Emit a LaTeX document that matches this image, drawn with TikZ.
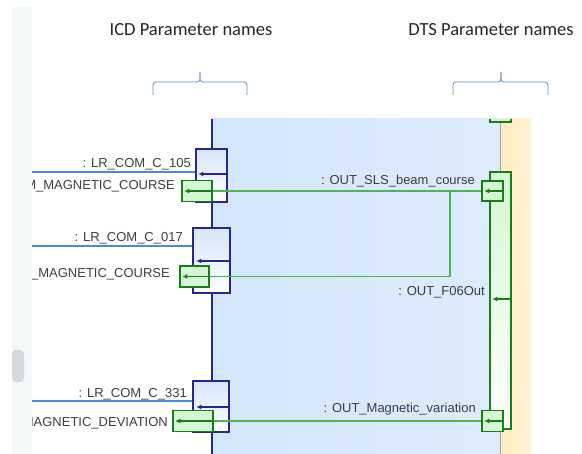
\documentclass[tikz,border=0pt]{standalone}
\usepackage{fontspec}
\setmainfont{Liberation Sans}
\newfontfamily\titlefont{Carlito}
\definecolor{seq_navy}{RGB}{40, 40, 140}
\definecolor{seq_blue}{RGB}{70, 140, 220}
\definecolor{seq_green}{RGB}{25, 125, 25}
\definecolor{seq_msg}{RGB}{80, 180, 80}
\definecolor{seq_bg}{RGB}{212, 230, 251}
\definecolor{seq_bglight}{RGB}{222, 236, 252}
\definecolor{seq_orange}{RGB}{253, 236, 192}
\definecolor{seq_orangelight}{RGB}{255, 243, 214}
\definecolor{seq_panel}{RGB}{244, 248, 248}
\definecolor{seq_thumb}{RGB}{214, 217, 219}
\definecolor{seq_brace}{RGB}{95, 140, 190}
\definecolor{seq_text}{RGB}{60, 60, 70}
\definecolor{seq_boxfill}{RGB}{214, 230, 251}
\definecolor{seq_greenfill}{RGB}{212, 246, 212}
\usetikzlibrary{arrows.meta}

\begin{document}
\begin{tikzpicture}[x=1pt, y=1pt,
    navybox/.style={draw=seq_navy, line width=1.4pt, top color=seq_boxfill,
                    bottom color=white, inner sep=0pt},
    greenbox/.style={draw=seq_green, line width=1.5pt, fill=seq_greenfill,
                     inner sep=0pt},
    bluemsg/.style={seq_blue, line width=1.2pt},
    greenmsg/.style={seq_msg, line width=1.2pt},
    navytip/.style={-{Latex[length=5pt, width=5pt]}, seq_navy, line width=1.2pt},
    greentip/.style={-{Latex[length=5pt, width=5pt]}, seq_green, line width=1.2pt},
    lbl/.style={font=\fontsize{13}{15}\selectfont, text=seq_text,
                inner sep=0pt, anchor=base east},
    ttl/.style={font=\titlefont\fontsize{18.5}{21}\selectfont,
                text=black!85, inner sep=0pt},
    bracestyle/.style={seq_brace, line width=0.8pt, rounded corners=3pt}]
  \useasboundingbox (0,0) rectangle (582,-454);

  \node[ttl] (icd) at (191,-30) {ICD Parameter names};
  \node[ttl] (dts) at (491,-30) {DTS Parameter names};
  \draw[bracestyle] (153,-95) |- (200,-82) -- (200,-72);
  \draw[bracestyle] (200,-72) -- (200,-82) -| (247,-95);
  \draw[bracestyle] (453,-95) |- (501,-82) -- (501,-72);
  \draw[bracestyle] (501,-72) -- (501,-82) -| (548,-95);

  \begin{scope}
    \clip (32,-100) rectangle (582,-454);
    \shade[left color=seq_bg, right color=seq_bglight] (212,-119) rectangle (500,-454);
    \shade[left color=seq_orange, right color=seq_orangelight] (500,-119) rectangle (531,-454);
    \draw[seq_navy, line width=1.2pt] (212,-119) -- (212,-454);
    \draw[gray!70, line width=1pt] (500,-119) -- (500,-454);
    \fill[seq_greenfill] (490,-119) rectangle (511,-122);
    \draw[seq_green, line width=1.5pt] (490,-119) |- (511,-122) -- (511,-119);

    \node[greenbox, top color=seq_greenfill, bottom color=white,
          minimum width=21pt, minimum height=257pt] (act) at (500.5,-300.5) {};
    \draw[greentip] ([yshift=1.5pt]act.east) -- ([xshift=3pt, yshift=1.5pt]act.west);

    \node[navybox, minimum width=31pt, minimum height=53pt] (ex1) at (211.5,-175.5) {};
    \node[navybox, minimum width=37pt, minimum height=65pt] (ex2) at (211.5,-260.5) {};
    \node[navybox, minimum width=36pt, minimum height=51pt] (ex3) at (211,-406.5) {};
    \draw[navytip] ([yshift=1.5pt]ex1.east) -- ([xshift=3pt, yshift=1.5pt]ex1.west);
    \draw[navytip] ([yshift=-0.5pt]ex2.east) -- ([xshift=4pt, yshift=-0.5pt]ex2.west);
    \draw[navytip] ([yshift=-0.5pt]ex3.east) -- ([xshift=4pt, yshift=-0.5pt]ex3.west);

    \node[greenbox, minimum width=30pt, minimum height=21pt] (gb1) at (197,-191) {};
    \node[greenbox, minimum width=29pt, minimum height=21pt] (gb2) at (194.5,-276.5) {};
    \node[greenbox, minimum width=40pt, minimum height=21pt] (gb3) at (193,-421) {};
    \node[greenbox, minimum width=21pt, minimum height=20pt] (rb1) at (492.5,-191) {};
    \node[greenbox, minimum width=21pt, minimum height=21pt] (rb2) at (492.5,-421) {};
    \draw[greentip] (gb1.east) -- ([xshift=3pt]gb1.west);
    \draw[greentip] (gb2.east) -- ([xshift=3pt]gb2.west);
    \draw[greentip] (gb3.east) -- ([xshift=3pt]gb3.west);
    \draw[greentip] (rb1.east) -- ([xshift=3pt]rb1.west);
    \draw[greentip] (rb2.east) -- ([xshift=3pt]rb2.west);

    \coordinate (in1) at (20,-172);
    \coordinate (in2) at (20,-246);
    \coordinate (in3) at (20,-401);
    \coordinate (split) at (450,-191);
    \draw[bluemsg] (in1) -- (in1 -| ex1.west);
    \draw[bluemsg] (in2) -- (in2 -| ex2.west);
    \draw[bluemsg] (in3) -- (in3 -| ex3.west);
    \draw[greenmsg] (rb1.west) -- (gb1.east);
    \draw[greenmsg] (split) |- (gb2.east);
    \draw[greenmsg] (rb2.west) -- (gb3.east);

    \node[lbl] (n105) at (191,-167.5) {: LR\_COM\_C\_105};
    \node[lbl] (n017) at (183,-241.5) {: LR\_COM\_C\_017};
    \node[lbl] (n331) at (187,-397.5) {: LR\_COM\_C\_331};
    \node[lbl] (crs1) at (175,-189.5) {M\_MAGNETIC\_COURSE};
    \node[lbl] (crs2) at (170,-277.5) {M\_MAGNETIC\_COURSE};
    \node[lbl] (dev) at (168,-427) {MAGNETIC\_DEVIATION};
    \node[lbl] (beam) at (475,-184.5) {: OUT\_SLS\_beam\_course};
    \node[lbl] (f06) at (485,-295.5) {: OUT\_F06Out};
    \node[lbl] (var) at (476,-412.5) {: OUT\_Magnetic\_variation};
  \end{scope}

  \fill[seq_panel] (12,-7) rectangle (32,-454);
  \fill[seq_thumb, rounded corners=4pt] (12,-350) rectangle (24,-382);
\end{tikzpicture}
\end{document}
